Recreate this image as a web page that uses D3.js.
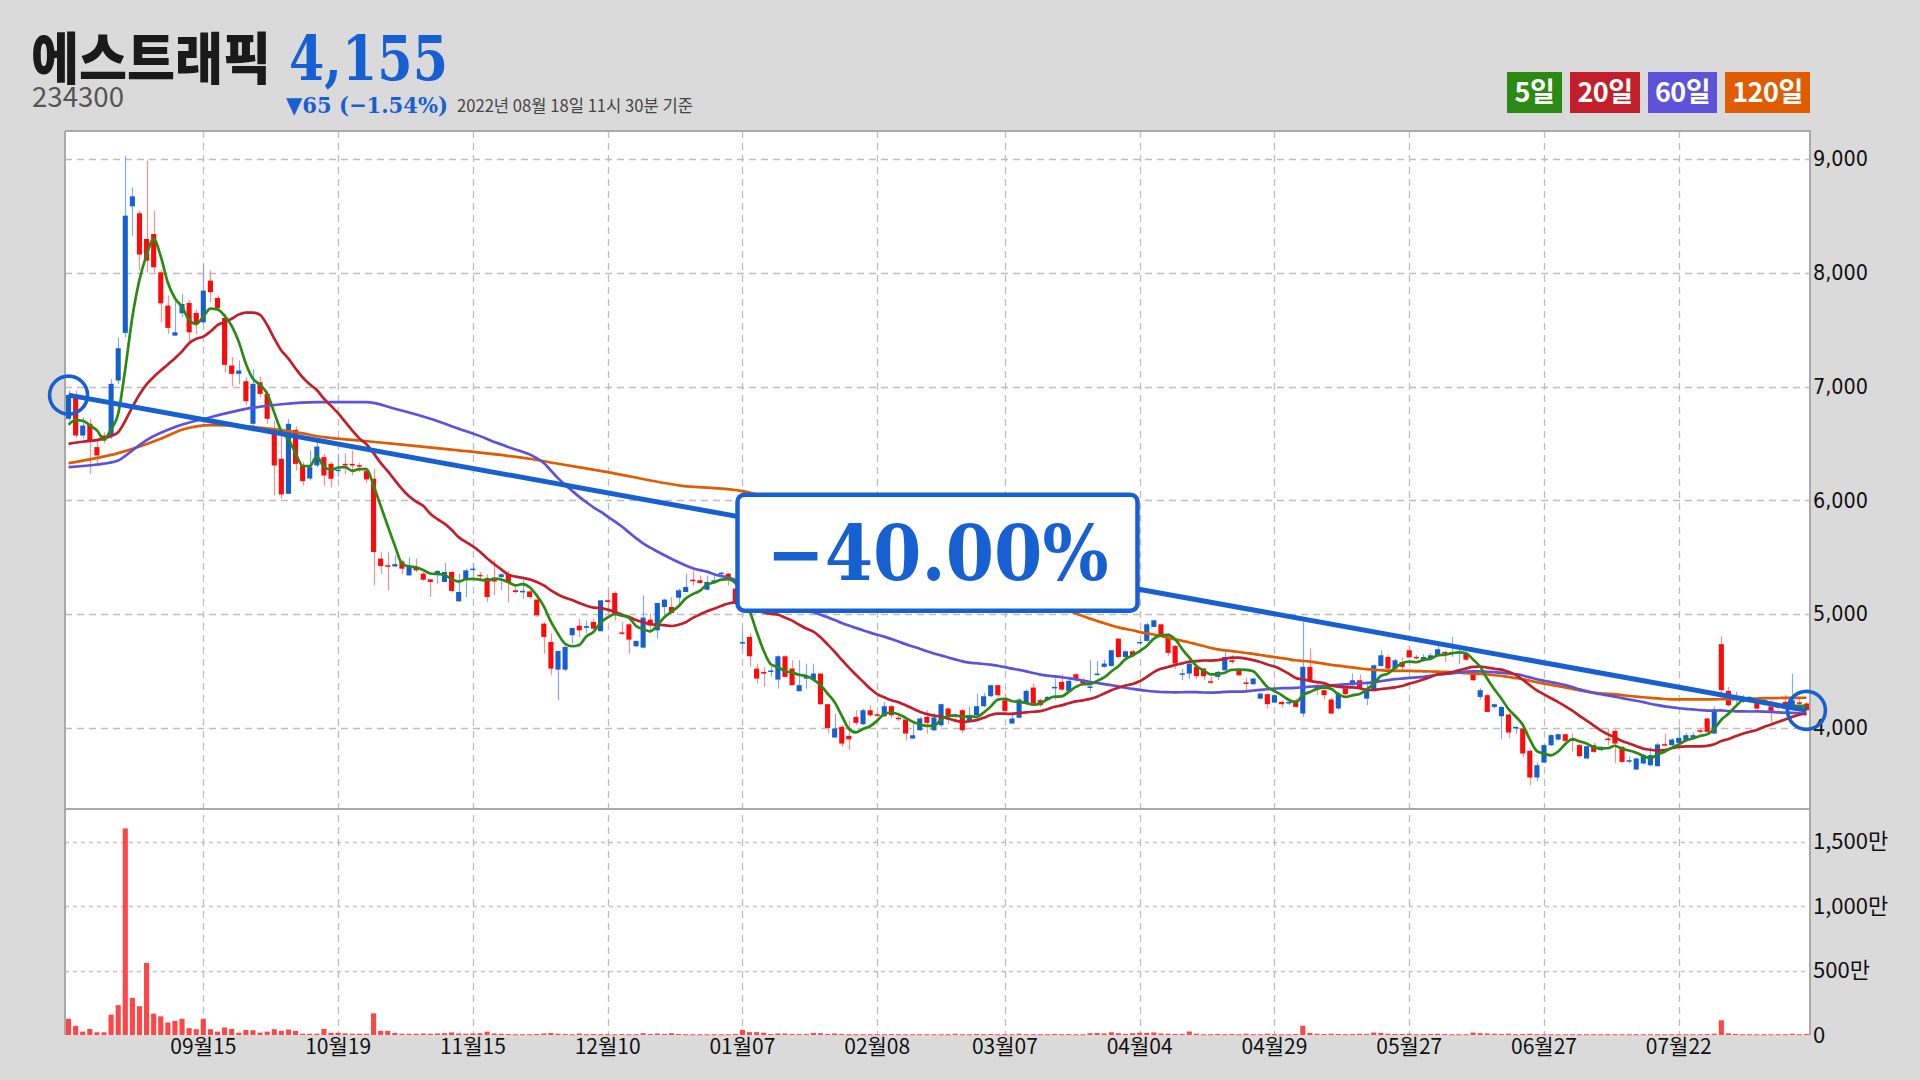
<!DOCTYPE html>
<html><head><meta charset="utf-8">
<script src="https://cdn.jsdelivr.net/npm/d3@7"></script>
<style>html,body{margin:0;padding:0;background:#dadada;}svg{display:block}</style>
</head><body>
<svg id="chart" width="1920" height="1080"></svg>
<script>
// ---------- DATA ----------
const stockName = "에스트래픽";
const stockCode = "234300";
const lastPrice = 4155;
const priceChange = -65;
const pctChange = -1.54;
const stampText = "2022년 08월 18일 11시 30분 기준";

const monthDays = [
  ["2021-08",[19,20,23,24,25,26,27,30,31]],
  ["2021-09",[1,2,3,6,7,8,9,10,13,14,15,16,17,23,24,27,28,29,30]],
  ["2021-10",[1,5,6,7,8,12,13,14,15,18,19,20,21,22,25,26,27,28,29]],
  ["2021-11",[1,2,3,4,5,8,9,10,11,12,15,16,17,18,19,22,23,24,25,26,29,30]],
  ["2021-12",[1,2,3,6,7,8,9,10,13,14,15,16,17,20,21,22,23,24,27,28,29,30]],
  ["2022-01",[3,4,5,6,7,10,11,12,13,14,17,18,19,20,21,24,25,26,27,28]],
  ["2022-02",[3,4,7,8,9,10,11,14,15,16,17,18,21,22,23,24,25,28]],
  ["2022-03",[2,3,4,7,8,10,11,14,15,16,17,18,21,22,23,24,25,28,29,30,31]],
  ["2022-04",[1,4,5,6,7,8,11,12,13,14,15,18,19,20,21,22,25,26,27,28,29]],
  ["2022-05",[2,3,4,6,9,10,11,12,13,16,17,18,19,20,23,24,25,26,27,30,31]],
  ["2022-06",[2,3,7,8,9,10,13,14,15,16,17,20,21,22,23,24,27,28,29,30]],
  ["2022-07",[1,4,5,6,7,8,11,12,13,14,15,18,19,20,21,22,25,26,27,28,29]],
  ["2022-08",[1,2,3,4,5,8,9,10,11,12,16,17,18]]
];

const open = [
6717,6927,6570,6673,6468,6570,6570,7053,7472,8584,
8523,8297,8341,8004,7712,7448,7644,7735,7647,7565,
7931,7779,7603,7185,7112,7047,6673,7038,6936,6629,
6365,6058,6620,6307,6192,6307,6380,6321,6260,6321,
6320,6310,6257,6190,5488,5430,5420,5464,5341,5415,
5356,5306,5356,5283,5371,5113,5306,5395,5345,5318,
5300,5327,5350,5210,5195,5200,5128,4917,4756,4513,
4513,4815,4899,4880,4932,4850,5122,5186,4840,4911,
4718,4706,4952,4858,5063,5063,5145,5195,5303,5298,
5215,5283,5360,5356,5224,4745,4800,4522,4492,4495,
4425,4630,4522,4323,4434,4425,4478,4209,3916,4010,
3930,4097,4033,4156,4120,4103,4191,4090,4074,3907,
3980,4097,3980,4024,4171,4100,4156,4068,4112,4191,
4279,4376,4244,4039,4090,4215,4355,4244,4244,4355,
4405,4326,4472,4420,4360,4472,4537,4545,4785,4624,
4674,4750,4765,4888,4911,4800,4721,4470,4478,4537,
4522,4410,4449,4507,4595,4502,4400,4384,4258,4297,
4223,4229,4215,4244,4127,4537,4375,4332,4250,4171,
4346,4376,4419,4258,4332,4545,4624,4522,4580,4683,
4625,4595,4610,4639,4668,4655,4665,4654,4493,4273,
4288,4185,4103,4118,3995,3995,3799,3565,3696,3849,
3898,3945,3900,3849,3732,3849,3805,3907,3974,3834,
3710,3635,3688,3673,3664,3858,3849,3869,3893,3915,
3980,4083,3951,4736,4326,4244,4230,4240,4250,4228,
4190,4190,4229,4170,4225,4215];

const high = [
6965,6965,6730,6716,6530,6600,7065,7430,9029,8750,
8545,8985,8545,8030,7800,7755,7815,7760,7680,8077,
8020,7800,7640,7260,7230,7080,7155,7090,6960,6700,
6615,6715,6650,6340,6440,6540,6410,6340,6410,6410,
6440,6330,6280,6278,5545,5545,5515,5480,5500,5490,
5370,5310,5385,5450,5375,5355,5400,5450,5370,5350,
5480,5360,5380,5260,5300,5210,5140,4930,4830,4677,
4740,4879,4960,4945,4960,5122,5210,5200,4930,4920,
4770,5165,5005,5098,5137,5150,5225,5356,5385,5340,
5340,5340,5370,5362,5240,4860,4830,4565,4535,4535,
4640,4640,4595,4595,4565,4565,4480,4210,4127,4025,
4060,4156,4171,4200,4140,4230,4200,4112,4080,4054,
4097,4156,4127,4215,4180,4112,4170,4185,4302,4309,
4376,4376,4302,4141,4260,4340,4390,4260,4280,4435,
4470,4455,4480,4440,4595,4590,4600,4683,4785,4680,
4690,4785,4925,4950,4915,4830,4730,4520,4566,4550,
4530,4450,4500,4670,4640,4530,4440,4440,4310,4300,
4300,4240,4235,4260,4932,4700,4390,4340,4265,4320,
4390,4480,4470,4410,4560,4683,4640,4610,4620,4725,
4640,4650,4660,4730,4680,4800,4690,4660,4500,4350,
4300,4215,4190,4130,4010,4000,3810,3700,3860,3945,
3950,3950,3950,3860,3845,3870,3840,3995,3990,3840,
3750,3740,3770,3830,3870,3950,3910,4010,3960,3960,
4000,4090,4190,4806,4360,4320,4290,4260,4265,4250,
4245,4210,4290,4478,4275,4225];

const low = [
6700,6550,6540,6234,6300,6500,6540,7020,7434,8326,
8020,8000,8000,7565,7465,7448,7610,7375,7460,7550,
7740,7665,7125,7000,7020,6835,6658,6905,6673,6043,
6015,6058,6260,6130,6175,6290,6130,6115,6205,6230,
6220,6250,6150,5254,5355,5210,5415,5355,5340,5370,
5290,5151,5270,5283,5195,5113,5150,5330,5310,5105,
5165,5210,5105,5180,5135,5135,4975,4653,4463,4244,
4500,4741,4800,4830,4860,4850,5005,4945,4815,4653,
4712,4700,4860,4785,4990,5010,5065,5195,5250,5270,
5210,5270,5330,5253,5085,4700,4537,4390,4360,4450,
4346,4449,4376,4323,4346,4420,4200,3951,3916,3834,
3805,4025,4025,4097,4097,4097,4083,4062,3893,3907,
3975,3951,3975,4010,4033,4083,3957,4054,4112,4185,
4273,4273,4141,4039,4085,4200,4200,4185,4240,4244,
4330,4320,4410,4380,4320,4460,4530,4540,4610,4600,
4620,4725,4760,4885,4805,4630,4520,4420,4430,4430,
4420,4390,4420,4505,4565,4460,4330,4380,4250,4170,
4220,4180,4200,4180,4097,4400,4290,4250,4120,4160,
4270,4370,4330,4200,4320,4540,4500,4510,4510,4620,
4600,4585,4600,4630,4580,4625,4560,4590,4410,4250,
4141,4170,3900,3910,3950,3740,3497,3530,3690,3840,
3890,3870,3790,3740,3725,3780,3795,3850,3690,3690,
3690,3630,3680,3660,3660,3835,3845,3860,3890,3910,
3955,3960,3950,4300,4190,4215,4220,4225,4140,4200,
4050,4160,4155,4155,4200,4150];

const close = [
6927,6570,6658,6526,6395,6526,7024,7337,8502,8672,
8160,8107,8048,7732,7516,7477,7726,7477,7551,7843,
7829,7691,7191,7112,7141,6872,7024,6936,6717,6307,
6052,6673,6321,6169,6292,6473,6219,6190,6270,6307,
6310,6300,6184,5546,5423,5420,5440,5400,5415,5385,
5303,5283,5380,5371,5204,5195,5385,5400,5335,5151,
5290,5350,5283,5195,5205,5151,4990,4800,4522,4677,
4712,4879,4858,4895,4873,5122,5107,5005,4830,4776,
4765,4970,4902,5098,5128,5010,5210,5239,5295,5274,
5283,5298,5365,5321,5093,4755,4630,4434,4478,4505,
4630,4449,4376,4376,4449,4478,4209,4000,3995,3863,
3900,4045,4156,4112,4110,4191,4112,4080,3951,3936,
4083,4045,4092,4209,4097,4112,3980,4112,4191,4279,
4376,4288,4150,4083,4250,4326,4215,4200,4273,4361,
4337,4414,4419,4390,4365,4478,4566,4683,4624,4674,
4639,4756,4911,4946,4815,4660,4566,4480,4566,4455,
4455,4400,4493,4624,4580,4463,4390,4434,4302,4209,
4288,4209,4229,4185,4537,4420,4346,4288,4127,4302,
4297,4419,4346,4332,4551,4639,4522,4595,4537,4620,
4615,4624,4639,4692,4655,4668,4670,4600,4420,4332,
4141,4209,4185,3960,4010,3776,3565,3673,3849,3937,
3945,3887,3890,3752,3840,3790,3834,3893,3863,3702,
3717,3732,3761,3761,3855,3850,3898,3913,3937,3937,
3966,3966,4162,4332,4200,4280,4258,4250,4170,4232,
4150,4185,4170,4244,4220,4155];

// volume in 만 (10,000 shares)
const volume = [
126,71,26,47,21,21,158,232,1605,289,
224,560,166,145,97,110,126,53,45,126,
45,26,58,47,18,39,37,18,26,45,
32,42,32,10,10,10,47,16,18,13,
10,10,10,168,32,32,16,10,10,10,
12,10,12,14,20,12,10,12,14,26,
12,10,8,6,6,6,8,12,16,10,
8,6,12,6,8,6,6,6,8,6,
6,14,8,12,8,14,8,6,6,6,
6,6,6,6,8,40,22,22,16,8,
12,12,8,8,8,16,14,8,12,8,
6,6,6,6,6,6,8,6,6,6,
6,6,6,6,6,10,6,6,8,6,
8,6,6,6,10,6,6,6,6,8,
6,8,6,6,14,16,12,21,14,8,
14,18,16,20,12,10,8,8,27,10,
6,6,8,6,8,6,10,6,6,10,
6,6,6,8,72,16,10,8,10,8,
6,8,10,8,19,16,10,8,8,10,
6,6,8,10,8,6,6,6,19,14,
12,10,8,10,6,8,10,6,6,6,
6,6,6,6,6,6,6,6,6,6,
6,6,6,6,6,6,6,6,6,6,
6,8,10,114,13,8,6,6,6,6,
6,6,6,10,6,8];

const ma5LeadIdx = [0,1,2,3];
const ma5LeadVal = [6665,6705,6700,6660];
const ma20LeadIdx = [0,2,4,6,7,8,9,10,11,12,13,14,15,16,17,18];
const ma20LeadVal = [6497,6515,6530,6565,6600,6700,6820,6930,7020,7085,7141,7195,7250,7310,7380,7420];
const ma60LeadIdx = [0,4,7,9,11,15,20,25,30,35,42,46,51,55];
const ma60LeadVal = [6292,6315,6351,6440,6530,6644,6731,6804,6845,6863,6863,6805,6717,6630];
const ma120LeadIdx = [0,7,13,16,20,25,32,36,41,46,55,65,69,76,86,95,100,105,110,115];
const ma120LeadVal = [6327,6415,6541,6620,6661,6650,6600,6556,6526,6497,6439,6366,6322,6249,6132,6082,5990,5890,5790,5700];

const maPeriods = [5,20,60,120];
const maLabels = ["5일","20일","60일","120일"];

const trendFrom = 6925;
const trendTo = 4155;

const priceTicks = [4000,5000,6000,7000,8000,9000];
const volumeTicks = [0,500,1000,1500];
const tickDates = ["2021-09-15","2021-10-19","2021-11-15","2021-12-10","2022-01-07","2022-02-08",
                   "2022-03-07","2022-04-04","2022-04-29","2022-05-27","2022-06-27","2022-07-22"];

// ---------- LAYOUT / STYLE ----------
const L = 65, R = 1810, T = 131, SPLIT = 809, B = 1035;
const UP = "#1560d0", DOWN = "#ff0a0a", UPW = "#86aae6", DOWNW = "#ff8e8e";
const maColors = ["#2a8a14","#c21f2b","#5e52db","#e05c00"];
const BLUE = "#1760d2";
const KR = "'Noto Sans CJK KR','Noto Sans',sans-serif";
const MINUS = "\u2212";

const dates = monthDays.flatMap(([m, ds]) => ds.map(d => m + "-" + String(d).padStart(2, "0")));

const svg = d3.select("#chart");
svg.append("rect").attr("width",1920).attr("height",1080).attr("fill","#dadada");
svg.append("rect").attr("x",L).attr("y",T).attr("width",R-L).attr("height",B-T).attr("fill","#fff");

const x = d3.scaleBand().domain(dates).range([L, R]).paddingInner(0.28).paddingOuter(0.14);
const bw = x.bandwidth();
const cx = i => x(dates[i]) + bw/2;
const y = d3.scaleLinear().domain([3288, 9246]).range([SPLIT, T]);
const yv = d3.scaleLinear().domain([0, 1756]).range([B, SPLIT]);

// gridlines
const grid = svg.append("g");
grid.selectAll(".hg").data(priceTicks).join("line")
  .attr("x1",L).attr("x2",R).attr("y1",d=>Math.round(y(d))+0.5).attr("y2",d=>Math.round(y(d))+0.5)
  .attr("stroke","#bdbdbd").attr("stroke-width",1.3).attr("stroke-dasharray","7,5");
grid.selectAll(".vg2").data(volumeTicks.filter(d=>d>0)).join("line")
  .attr("x1",L).attr("x2",R).attr("y1",d=>Math.round(yv(d))+0.5).attr("y2",d=>Math.round(yv(d))+0.5)
  .attr("stroke","#c4c4c4").attr("stroke-width",1.3).attr("stroke-dasharray","4,4");
grid.selectAll(".vg").data(tickDates).join("line")
  .attr("x1",d=>Math.round(x(d)+bw/2)+0.5).attr("x2",d=>Math.round(x(d)+bw/2)+0.5)
  .attr("y1",T).attr("y2",B)
  .attr("stroke","#bdbdbd").attr("stroke-width",1.3).attr("stroke-dasharray","7,5");

// clip for price pane
svg.append("clipPath").attr("id","pclip").append("rect").attr("x",L).attr("y",T).attr("width",R-L).attr("height",SPLIT-T);

const idx = d3.range(dates.length);
const pg = svg.append("g").attr("clip-path","url(#pclip)");
// wicks
pg.selectAll(".wick").data(idx).join("line")
  .attr("x1",i=>Math.round(cx(i))+0.5).attr("x2",i=>Math.round(cx(i))+0.5)
  .attr("y1",i=>y(high[i])).attr("y2",i=>y(low[i]))
  .attr("stroke",i=>close[i]>=open[i]?UPW:DOWNW).attr("stroke-width",1.2);
// bodies
pg.selectAll(".body").data(idx).join("rect")
  .attr("x",i=>x(dates[i])).attr("width",bw)
  .attr("y",i=>y(Math.max(open[i],close[i])))
  .attr("height",i=>Math.max(1.5, Math.abs(y(open[i])-y(close[i]))))
  .attr("fill",i=>close[i]>=open[i]?UP:DOWN);

// volume bars
svg.append("g").selectAll("rect").data(idx).join("rect")
  .attr("x",i=>x(dates[i])).attr("width",bw)
  .attr("y",i=>yv(volume[i])).attr("height",i=>Math.max(1,B-yv(volume[i])))
  .attr("fill","#ff4646");

// moving averages
function maPoints(n, leadIdx, leadVal){
  const pts = leadIdx.map((k,j)=>[k, leadVal[j]]);
  for (let i = n-1; i < close.length; i++) pts.push([i, d3.mean(close.slice(i-n+1, i+1))]);
  return pts;
}
const maSeries = [
  maPoints(5, ma5LeadIdx, ma5LeadVal),
  maPoints(20, ma20LeadIdx, ma20LeadVal),
  maPoints(60, ma60LeadIdx, ma60LeadVal),
  maPoints(120, ma120LeadIdx, ma120LeadVal)
];
const line = d3.line().x(p=>cx(p[0])).y(p=>y(p[1])).curve(d3.curveMonotoneX);
[3,2,1,0].forEach(k=>{
  pg.append("path").attr("d", line(maSeries[k])).attr("fill","none")
    .attr("stroke", maColors[k]).attr("stroke-width",2.7).attr("stroke-linejoin","round");
});

// frame
const frame = svg.append("g").attr("stroke","#a9a9a9").attr("stroke-width",2);
frame.append("line").attr("x1",L).attr("x2",L).attr("y1",T).attr("y2",B);
frame.append("line").attr("x1",R).attr("x2",R).attr("y1",T-1).attr("y2",B);
frame.append("line").attr("x1",L).attr("x2",R).attr("y1",T).attr("y2",T);
frame.append("line").attr("x1",L).attr("x2",R).attr("y1",SPLIT).attr("y2",SPLIT);

// axes
const ay = svg.append("g").attr("transform",`translate(${R},0)`)
  .call(d3.axisRight(y).tickValues(priceTicks).tickFormat(d3.format(",")).tickSize(0).tickPadding(3));
ay.select(".domain").remove();
ay.selectAll("text").attr("font-family","'DejaVu Sans',sans-serif").attr("font-size",21).attr("fill","#111")
  .attr("textLength",55).attr("lengthAdjust","spacingAndGlyphs");

const av = svg.append("g").attr("transform",`translate(${R},0)`)
  .call(d3.axisRight(yv).tickValues(volumeTicks).tickFormat(d=>d===0?"0":d3.format(",")(d)+"만").tickSize(0).tickPadding(3));
av.select(".domain").remove();
av.selectAll("text").attr("font-family",KR).attr("font-size",22).attr("fill","#111");

const ax = svg.append("g").attr("transform",`translate(0,${B})`)
  .call(d3.axisBottom(x).tickValues(tickDates).tickFormat(d=>d.slice(5,7)+"월"+d.slice(8,10)).tickSize(0).tickPadding(4));
ax.select(".domain").remove();
ax.selectAll("text").attr("font-family",KR).attr("font-size",21).attr("fill","#111");

// trend line
const x0 = cx(0), x1 = cx(dates.length-1), y0 = y(trendFrom), y1 = y(trendTo);
svg.append("line").attr("x1",x0).attr("y1",y0).attr("x2",x1).attr("y2",y1)
  .attr("stroke",BLUE).attr("stroke-width",5);
[[x0,y0],[x1,y1]].forEach(([a,b])=>{
  svg.append("circle").attr("cx",a).attr("cy",b).attr("r",19)
    .attr("fill","none").attr("stroke",BLUE).attr("stroke-width",3.6);
});
const pct = (trendTo/trendFrom - 1)*100;
const mx = (x0+x1)/2, my = (y0+y1)/2;
svg.append("rect").attr("x",mx-200).attr("y",my-58).attr("width",400).attr("height",116).attr("rx",7)
  .attr("fill","#fff").attr("stroke",BLUE).attr("stroke-width",4.5);
svg.append("text").attr("x",mx).attr("y",my+27).attr("text-anchor","middle")
  .attr("font-family","'DejaVu Serif',serif").attr("font-weight","bold").attr("font-size",76)
  .attr("fill",BLUE).attr("textLength",342).attr("lengthAdjust","spacingAndGlyphs")
  .text((pct<0?MINUS:"+")+d3.format(".2f")(Math.abs(pct))+"%");

// header
svg.append("text").attr("x",31).attr("y",79).attr("font-family",KR).attr("font-weight",900)
  .attr("font-size",56).attr("fill","#1a1a1a").attr("textLength",240).attr("lengthAdjust","spacingAndGlyphs")
  .text(stockName);
svg.append("text").attr("x",289).attr("y",80).attr("font-family","'DejaVu Serif',serif").attr("font-weight","bold")
  .attr("font-size",62).attr("fill",BLUE).attr("textLength",159).attr("lengthAdjust","spacingAndGlyphs")
  .text(d3.format(",")(lastPrice));
svg.append("text").attr("x",32).attr("y",107).attr("font-family",KR).attr("font-size",28)
  .attr("fill","#555").attr("textLength",92).attr("lengthAdjust","spacingAndGlyphs").text(stockCode);
svg.append("text").attr("x",286).attr("y",113).attr("font-family","'DejaVu Serif',serif").attr("font-weight","bold")
  .attr("font-size",23).attr("fill",BLUE).attr("textLength",162).attr("lengthAdjust","spacingAndGlyphs")
  .text((priceChange<0?"▼":"▲")+Math.abs(priceChange)+" ("+(pctChange<0?MINUS:"+")+d3.format(".2f")(Math.abs(pctChange))+"%)");
svg.append("text").attr("x",457).attr("y",112).attr("font-family",KR).attr("font-size",17)
  .attr("fill","#444").attr("textLength",236).attr("lengthAdjust","spacingAndGlyphs").text(stampText);

// legend
const legendBoxes = [[1507,55],[1570,70],[1648,69],[1725,85]];
maLabels.forEach((lab,k)=>{
  const [bx,w] = legendBoxes[k];
  svg.append("rect").attr("x",bx).attr("y",72).attr("width",w).attr("height",41).attr("fill",maColors[k]);
  svg.append("text").attr("x",bx+w/2).attr("y",102).attr("text-anchor","middle")
    .attr("font-family",KR).attr("font-weight",700).attr("font-size",27).attr("fill","#fff")
    .attr("letter-spacing",-0.5).text(lab);
});
</script>
</body></html>
